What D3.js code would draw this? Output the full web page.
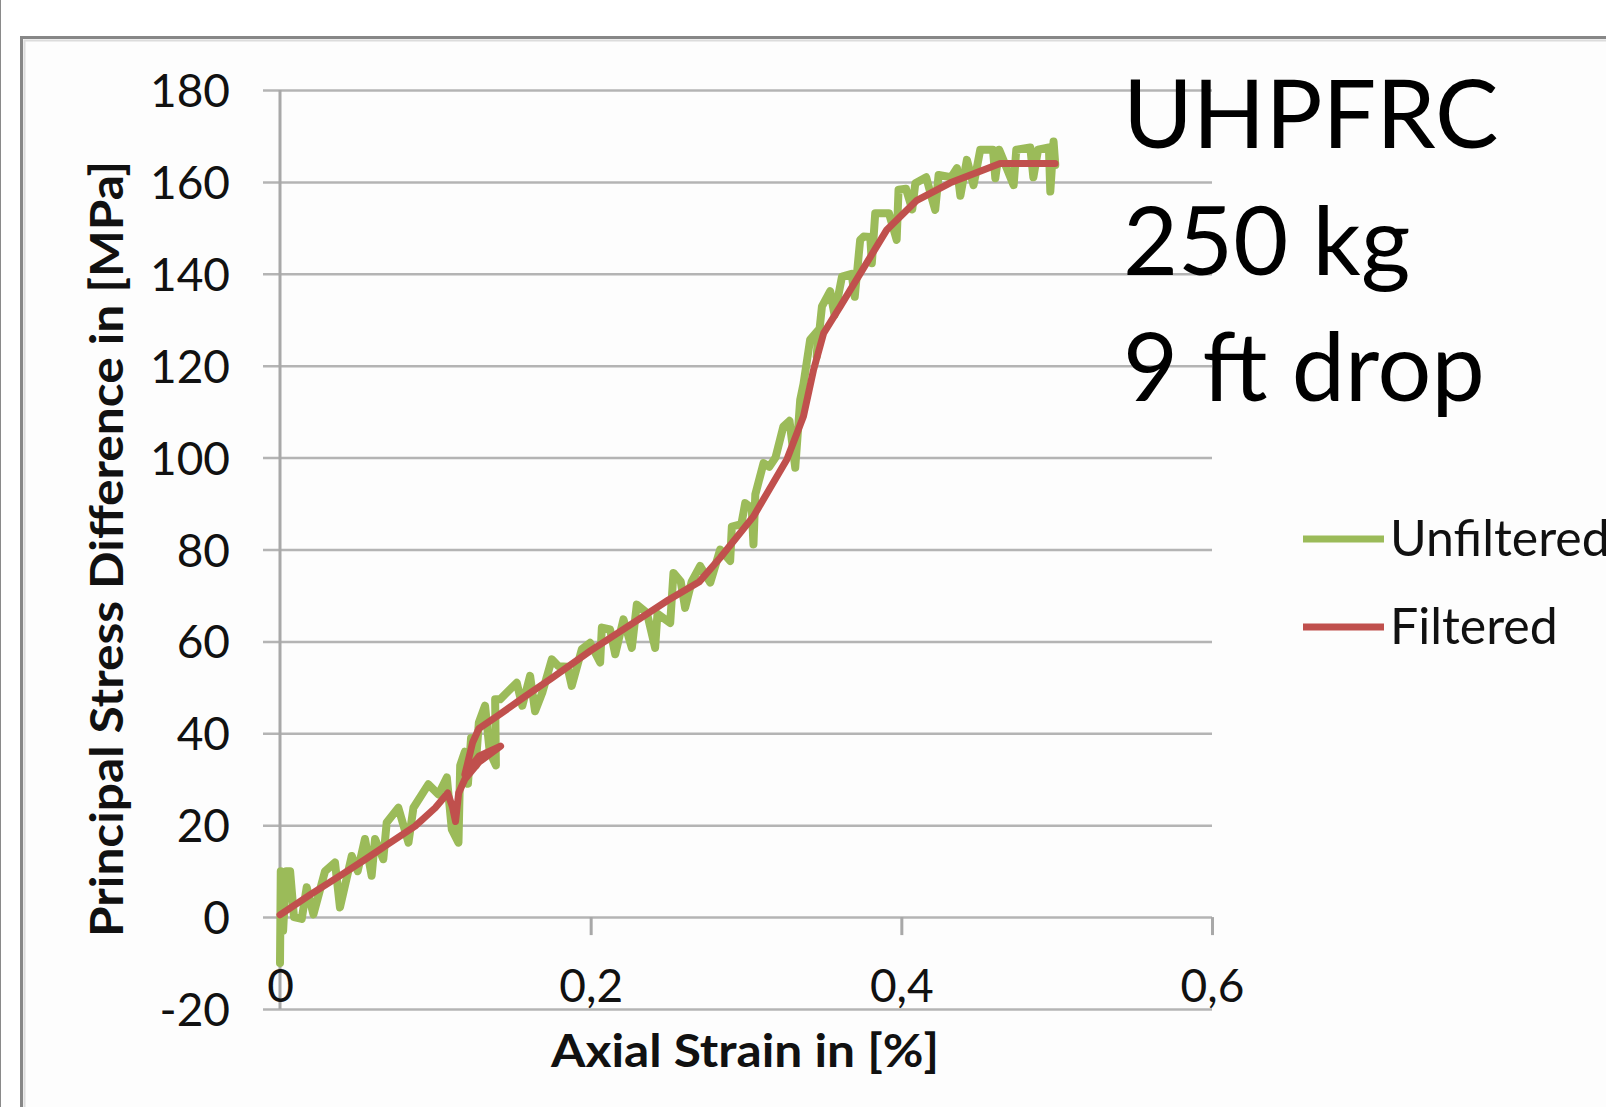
<!DOCTYPE html>
<html lang="en">
<head>
    <meta charset="UTF-8">
    <title>UHPFRC stress-strain</title>
    <style>
        body {
            margin: 0;
            background: #ffffff;
        }
        svg {
            display: block;
            font-family: Lato, "Open Sans", sans-serif;
        }
        .tick text {
            font-size: 46px;
            fill: #111;
        }
        .axis-title {
            font-size: 46px;
            font-weight: bold;
            fill: #111;
        }
        .note {
            font-size: 95px;
            fill: #000;
        }
        .legend-label {
            font-size: 50px;
            fill: #111;
        }
    </style>
    <script src="https://d3js.org/d3.v7.min.js"></script>
</head>
<body>
    <svg id="chart" width="1606" height="1107"></svg>
    <script>
        // values: [axial strain %, stress MPa]
        const unfiltered = [
            [0, -10], [0.0005, 10], [0.002, -3], [0.004, 10], [0.0065, 10], [0.009, 0],
            [0.014, -0.4], [0.0172, 6.5], [0.0215, 0.6], [0.029, 10], [0.0354, 11.9], [0.0386, 2.1],
            [0.0462, 13.3], [0.05, 10], [0.0547, 17], [0.059, 9], [0.0612, 17], [0.0665, 12.6],
            [0.0687, 20.6], [0.0762, 23.8], [0.0827, 16.2], [0.0859, 23.8], [0.0955, 28.9], [0.102, 26.7],
            [0.1074, 30.4], [0.1106, 19.1], [0.1149, 16.2], [0.116, 33], [0.119, 36], [0.121, 29],
            [0.123, 39], [0.126, 33], [0.128, 42.3], [0.132, 46], [0.135, 36], [0.139, 33],
            [0.1385, 47.4], [0.1417, 47.4], [0.1524, 51], [0.156, 46], [0.161, 52.5], [0.1642, 44.8],
            [0.169, 49], [0.175, 56.1], [0.1793, 54.6], [0.185, 54.5], [0.1878, 50.3], [0.1943, 58.3],
            [0.1996, 59.7], [0.2061, 55.4], [0.2072, 63], [0.2125, 62.6], [0.2158, 57.2], [0.2211, 64.8],
            [0.2265, 58.6], [0.2297, 68], [0.2362, 66.2], [0.2415, 58.6], [0.243, 66], [0.2512, 64],
            [0.2533, 74.9], [0.258, 73], [0.2608, 67.3], [0.265, 73], [0.2705, 76.4], [0.277, 72.8],
            [0.2834, 80], [0.2898, 77.5], [0.2909, 85], [0.297, 85.5], [0.2995, 90.1], [0.3037, 89],
            [0.3048, 81.1], [0.306, 92], [0.3113, 98.8], [0.315, 98], [0.319, 100], [0.3241, 106.8],
            [0.328, 108], [0.3317, 97.8], [0.3349, 112.6], [0.337, 116], [0.3413, 125.7], [0.3467, 127.8],
            [0.3455, 122], [0.3489, 132.9], [0.3542, 136.2], [0.357, 131], [0.3618, 139.4], [0.368, 140],
            [0.37, 135], [0.3735, 147.4], [0.3757, 148.1], [0.38, 148], [0.381, 142.3], [0.3832, 153.2],
            [0.392, 153.2], [0.397, 147.4], [0.3982, 158.3], [0.403, 158.5], [0.407, 154], [0.409, 159.7],
            [0.416, 161], [0.42, 156], [0.4218, 153.9], [0.424, 161.5], [0.432, 161], [0.4358, 163],
            [0.438, 157], [0.4422, 164.8], [0.4465, 159.3], [0.4508, 167], [0.459, 167], [0.4605, 160.8],
            [0.463, 167], [0.4723, 159.3], [0.474, 167], [0.483, 167.5], [0.485, 161], [0.488, 167],
            [0.495, 167.5], [0.4959, 157.9], [0.498, 168.8], [0.4991, 163.7]
        ];

        const filtered = [
            [0, 0.5], [0.02, 5], [0.04, 9.3], [0.055, 12.6], [0.07, 16], [0.087, 19.8],
            [0.1, 23.8], [0.108, 27], [0.111, 24], [0.113, 20.8], [0.115, 27], [0.119, 30],
            [0.128, 33.7], [0.142, 37.2], [0.128, 35], [0.119, 31], [0.124, 38], [0.128, 41],
            [0.141, 44], [0.158, 48.1], [0.175, 52], [0.2, 58], [0.225, 63.5], [0.25, 69],
            [0.27, 73], [0.2834, 78.2], [0.3048, 87.2], [0.3263, 99.6], [0.337, 109], [0.3435, 119.1],
            [0.35, 127.1], [0.3607, 132.9], [0.3736, 140.1], [0.3907, 149.6], [0.41, 156], [0.4315, 159.8],
            [0.4528, 162.6], [0.4636, 164], [0.499, 164]
        ];

        const yTicks = [-20, 0, 20, 40, 60, 80, 100, 120, 140, 160, 180];
        const xTicks = [0, 0.2, 0.4, 0.6];
        const seriesNames = ["Unfiltered", "Filtered"];
        const seriesColors = ["#9bbb59", "#c0504d"];
        const noteLines = ["UHPFRC", "250 kg", "9 ft drop"];

        const svg = d3.select("#chart");

        // outer frame
        svg.append("line").attr("x1", 0.5).attr("x2", 0.5).attr("y1", 0).attr("y2", 1107)
            .attr("stroke", "#8a8a8a").attr("stroke-width", 1);
        svg.append("rect").attr("x", 21.5).attr("y", 37.5).attr("width", 1700).attr("height", 1200)
            .attr("fill", "#fdfdfd").attr("stroke", "#878787").attr("stroke-width", 3);
        svg.append("path").attr("d", "M24.5,1107V40.5H1606")
            .attr("fill", "none").attr("stroke", "#dcdcdc").attr("stroke-width", 2);

        const x = d3.scaleLinear().domain([0, 0.6]).range([280, 1212]);
        const y = d3.scaleLinear().domain([-20, 180]).range([1009, 90]);

        // gridlines + y labels
        const yAxis = svg.append("g")
            .attr("transform", "translate(263,0)")
            .call(d3.axisLeft(y).tickValues(yTicks).tickSize(-(1212 - 263)).tickPadding(33)
                .tickFormat(d => String(d)));
        yAxis.attr("font-family", null).attr("font-size", null);
        yAxis.select(".domain").remove();
        yAxis.selectAll(".tick line").attr("stroke", "#b4b4b4").attr("stroke-width", 2.5);
        yAxis.selectAll(".tick text").attr("dy", "0.36em");

        // vertical axis line
        svg.append("line")
            .attr("x1", x(0)).attr("x2", x(0)).attr("y1", y(180)).attr("y2", y(-20))
            .attr("stroke", "#a8a8a8").attr("stroke-width", 3);

        // x axis crossing at y = 0
        const fmt = d => d === 0 ? "0" : String(d).replace(".", ",");
        const xAxis = svg.append("g")
            .attr("transform", `translate(0,${y(0)})`)
            .call(d3.axisBottom(x).tickValues(xTicks).tickSize(18).tickPadding(34).tickFormat(fmt));
        xAxis.attr("font-family", null).attr("font-size", null);
        xAxis.select(".domain").remove();
        xAxis.selectAll(".tick line").attr("stroke", "#a8a8a8").attr("stroke-width", 3);

        // axis titles
        svg.append("text")
            .attr("class", "axis-title")
            .attr("x", 745).attr("y", 1067)
            .attr("text-anchor", "middle")
            .attr("textLength", 388)
            .attr("lengthAdjust", "spacingAndGlyphs")
            .text("Axial Strain in [%]");

        svg.append("text")
            .attr("class", "axis-title")
            .attr("transform", "translate(123,549) rotate(-90)")
            .attr("text-anchor", "middle")
            .attr("textLength", 776)
            .attr("lengthAdjust", "spacingAndGlyphs")
            .text("Principal Stress Difference in [MPa]");

        // series
        const line = d3.line().x(d => x(d[0])).y(d => y(d[1]));
        [unfiltered, filtered].forEach((data, i) => {
            svg.append("path")
                .datum(data)
                .attr("d", line)
                .attr("fill", "none")
                .attr("stroke", seriesColors[i])
                .attr("stroke-width", i === 0 ? 8 : 7)
                .attr("stroke-linejoin", "round")
                .attr("stroke-linecap", "round");
        });

        // annotation
        svg.append("g").selectAll("text")
            .data(noteLines)
            .enter().append("text")
            .attr("class", "note")
            .attr("x", 1123)
            .attr("y", (d, i) => 148 + i * 126.5)
            .text(d => d);

        // legend
        const legend = svg.append("g").selectAll("g")
            .data(seriesNames)
            .enter().append("g")
            .attr("transform", (d, i) => `translate(1303,${539 + i * 88})`);
        legend.append("line")
            .attr("x1", 0).attr("x2", 81)
            .attr("stroke", (d, i) => seriesColors[i])
            .attr("stroke-width", 7);
        legend.append("text")
            .attr("class", "legend-label")
            .attr("x", 87).attr("y", 17)
            .text(d => d);
    </script>
</body>
</html>
